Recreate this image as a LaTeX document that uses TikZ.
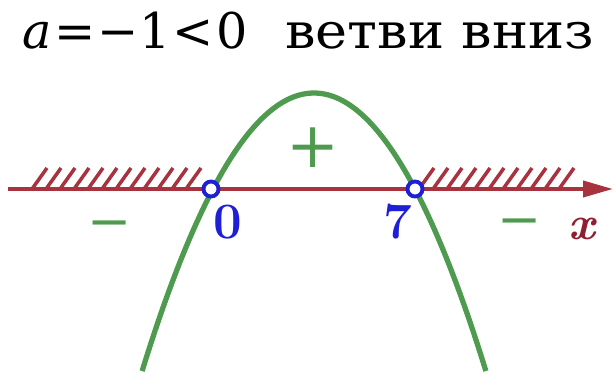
\documentclass[tikz,border=0pt]{standalone}
\usepackage{fontspec}
\newfontfamily\titlefont{DejaVu Serif}
\newfontfamily\wordfont[FakeStretch=1.1]{DejaVu Serif}
\usetikzlibrary{arrows.meta,positioning,calc}
\definecolor{axisred}{HTML}{A8323E}
\definecolor{branch}{HTML}{4E9A4E}
\definecolor{root}{HTML}{1F1FD6}
\definecolor{xred}{HTML}{8E1F30}

\begin{document}
\begin{tikzpicture}[
  hatch/.style={axisred, line width=2pt},
  hole/.style={circle, draw=root, fill=white, line width=2.2pt,
               minimum size=0.3cm, inner sep=0pt},
  num/.style={font=\fontsize{29}{30}\selectfont\bfseries, text=root},
  sgn/.style={text=branch},
  ttl/.style={font=\fontsize{28}{32}\selectfont\titlefont,
              inner sep=0pt, anchor=base west}]
  \useasboundingbox (-4.26,-3.64) rectangle (8.04,3.78);
  \node[ttl] (cond) at (-3.82,2.81)
    {\textit{a}\kern.05em=\kern.05em−1\kern.05em<\kern.05em0};
  \node[ttl, font=\fontsize{28}{32}\selectfont\wordfont] (dir) at (1.44,2.81)
    {ветви вниз};
  % axis with hatching
  \coordinate (xs) at (-4.10,0);
  \coordinate (xe) at (8.0,0);
  \foreach \h in {-3.62,-3.34,...,-0.3}
    \draw[hatch] (\h,0) -- ++(0.3,0.42);
  \foreach \h in {4.12,4.40,...,7.0}
    \draw[hatch] (\h,0) -- ++(0.3,0.42);
  \draw[axisred, line width=2.2pt,
        -{Triangle[length=0.6cm,width=0.32cm]}] (xs) -- (xe);
  % parabola
  \draw[branch, line width=3pt]
    plot[domain=-1.418:5.458, samples=80, smooth] (\x,{-0.4705*\x*(\x-4.04)});
  \node[hole] (p0) at (-0.04,0) {};
  \node[hole] (p7) at (4.04,0) {};
  \node[num] (l0) at (0.30,-0.66) {0};
  \node[num] (l7) at (3.70,-0.66) {7};
  \node[sgn, font=\fontsize{30}{32}\selectfont\titlefont] (mleft) at (-2.06,-0.82) {−};
  \node[sgn, font=\fontsize{36}{38}\selectfont\titlefont] (plus) at (2.0,0.82) {+};
  \node[sgn, font=\fontsize{30}{32}\selectfont\titlefont] (mright) at (6.14,-0.78) {−};
  \node[text=xred, font=\fontsize{27}{28}\selectfont\bfseries\itshape] (xlab)
    at (7.38,-0.80) {x};
\end{tikzpicture}
\end{document}
